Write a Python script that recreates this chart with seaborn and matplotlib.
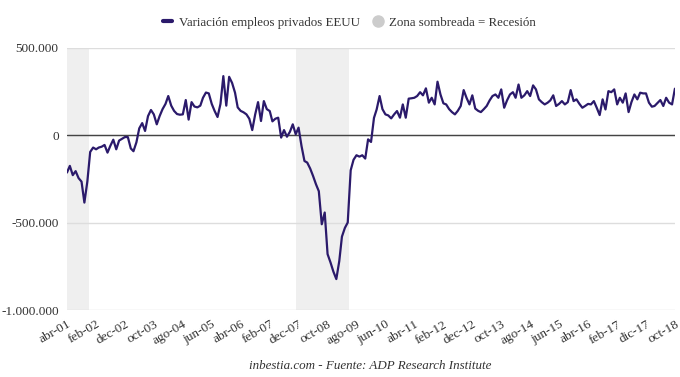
import pandas as pd
import matplotlib
matplotlib.use("Agg")
import matplotlib.pyplot as plt
from matplotlib.lines import Line2D
from matplotlib.ticker import FuncFormatter
import seaborn as sns

# Variación mensual del empleo privado (ADP), abr-2001 a oct-2018, en miles
empleo_miles = [
    -213, -175, -228, -205, -245, -265, -385, -265, -95,
    -70, -80, -70, -65, -55, -99, -60, -25, -80, -30, -20, -10,
    -10, -75, -91, -40, 40, 70, 25, 110, 145, 120, 63, 110,
    150, 180, 225, 170, 140, 122, 118, 120, 202, 90, 190, 165,
    160, 170, 215, 245, 240, 180, 140, 105, 180, 339, 170, 335,
    300, 244, 160, 140, 132, 120, 95, 30, 120, 190, 82, 196,
    150, 139, 80, 95, 101, -13, 30, -8, 20, 63, 6, 44,
    -61, -147, -156, -190, -232, -280, -320, -509, -442, -680, -728, -780,
    -823, -720, -580, -530, -499, -200, -140, -114, -122, -114, -133, -23,
    -38, 100, 148, 225, 150, 120, 114, 97, 120, 139, 101, 177,
    101, 210, 212, 215, 225, 247, 229, 269, 187, 215, 177, 307,
    234, 183, 177, 150, 133, 120, 140, 168, 259, 215, 177, 229,
    153, 140, 133, 150, 168, 200, 225, 234, 215, 263, 158, 200,
    234, 247, 215, 291, 215, 229, 253, 225, 286, 263, 206, 190,
    177, 187, 200, 229, 168, 180, 196, 177, 190, 259, 196, 206,
    180, 158, 168, 180, 177, 196, 158, 116, 206, 148, 253, 247,
    263, 177, 215, 187, 240, 133, 190, 234, 206, 244, 240, 240,
    187, 164, 168, 185, 202, 168, 215, 187, 177, 267,
]
fechas = pd.date_range("2001-04-01", periods=len(empleo_miles), freq="MS")

etiquetas_x = [
    "abr-01", "feb-02", "dec-02", "oct-03", "ago-04", "jun-05", "abr-06",
    "feb-07", "dec-07", "oct-08", "ago-09", "jun-10", "abr-11", "feb-12",
    "dec-12", "oct-13", "ago-14", "jun-15", "abr-16", "feb-17", "dic-17",
    "oct-18",
]
recesiones = [("2001-03-01", "2001-11-20"), ("2007-11-01", "2009-05-10")]

df = pd.DataFrame({"fecha": fechas, "empleo": [v * 1000 for v in empleo_miles]})

sns.set_theme(style="white")
plt.rcParams["font.family"] = ["Liberation Serif", "DejaVu Serif"]

color_linea = "#2b1a6b"
color_texto = "#333333"

fig = plt.figure(figsize=(6.8, 3.77), dpi=100)
ax = fig.add_axes([0.0985, 0.1777, 0.894, 0.695])

for ini, fin in recesiones:
    ax.axvspan(pd.Timestamp(ini), pd.Timestamp(fin), color="#efefef", lw=0, zorder=0)

ax.set_yticks([-1000000, -500000, 0, 500000])
ax.yaxis.grid(True, color="#dddddd", lw=1)
ax.set_axisbelow(True)
ax.axhline(0, color="#444444", lw=1, zorder=1)

sns.lineplot(data=df, x="fecha", y="empleo", color=color_linea, lw=1.6, ax=ax, zorder=3)

ax.set_ylim(-1000000, 500000)
ax.set_xlim(fechas[0], fechas[-1])
ax.yaxis.set_major_formatter(FuncFormatter(lambda v, p: f"{v:,.0f}".replace(",", ".")))

ax.set_xticks(fechas[::10])
ax.set_xticklabels(etiquetas_x, rotation=30, ha="right", rotation_mode="anchor")
ax.tick_params(axis="x", length=0, pad=6, labelsize=9.5, labelcolor=color_texto)
ax.tick_params(axis="y", length=0, pad=6, labelsize=9.5, labelcolor=color_texto)
ax.set_xlabel("")
ax.set_ylabel("")
for s in ax.spines.values():
    s.set_visible(False)

handles = [
    Line2D([], [], color=color_linea, lw=3),
    Line2D([], [], marker="o", color="#cccccc", linestyle="none", markersize=8),
]
fig.legend(handles, ["Variación empleos privados EEUU", "Zona sombreada = Recesión"],
           loc="center", bbox_to_anchor=(0.514, 0.94), ncol=2, frameon=False,
           handlelength=0.7, handletextpad=0.5, columnspacing=1.1,
           prop={"size": 9.3}, labelcolor=color_texto)

fig.text(0.544, 0.03, "inbestia.com - Fuente: ADP Research Institute",
         ha="center", va="center", style="italic", fontsize=9.4, color=color_texto)

fig.savefig("out.png", dpi=100)
